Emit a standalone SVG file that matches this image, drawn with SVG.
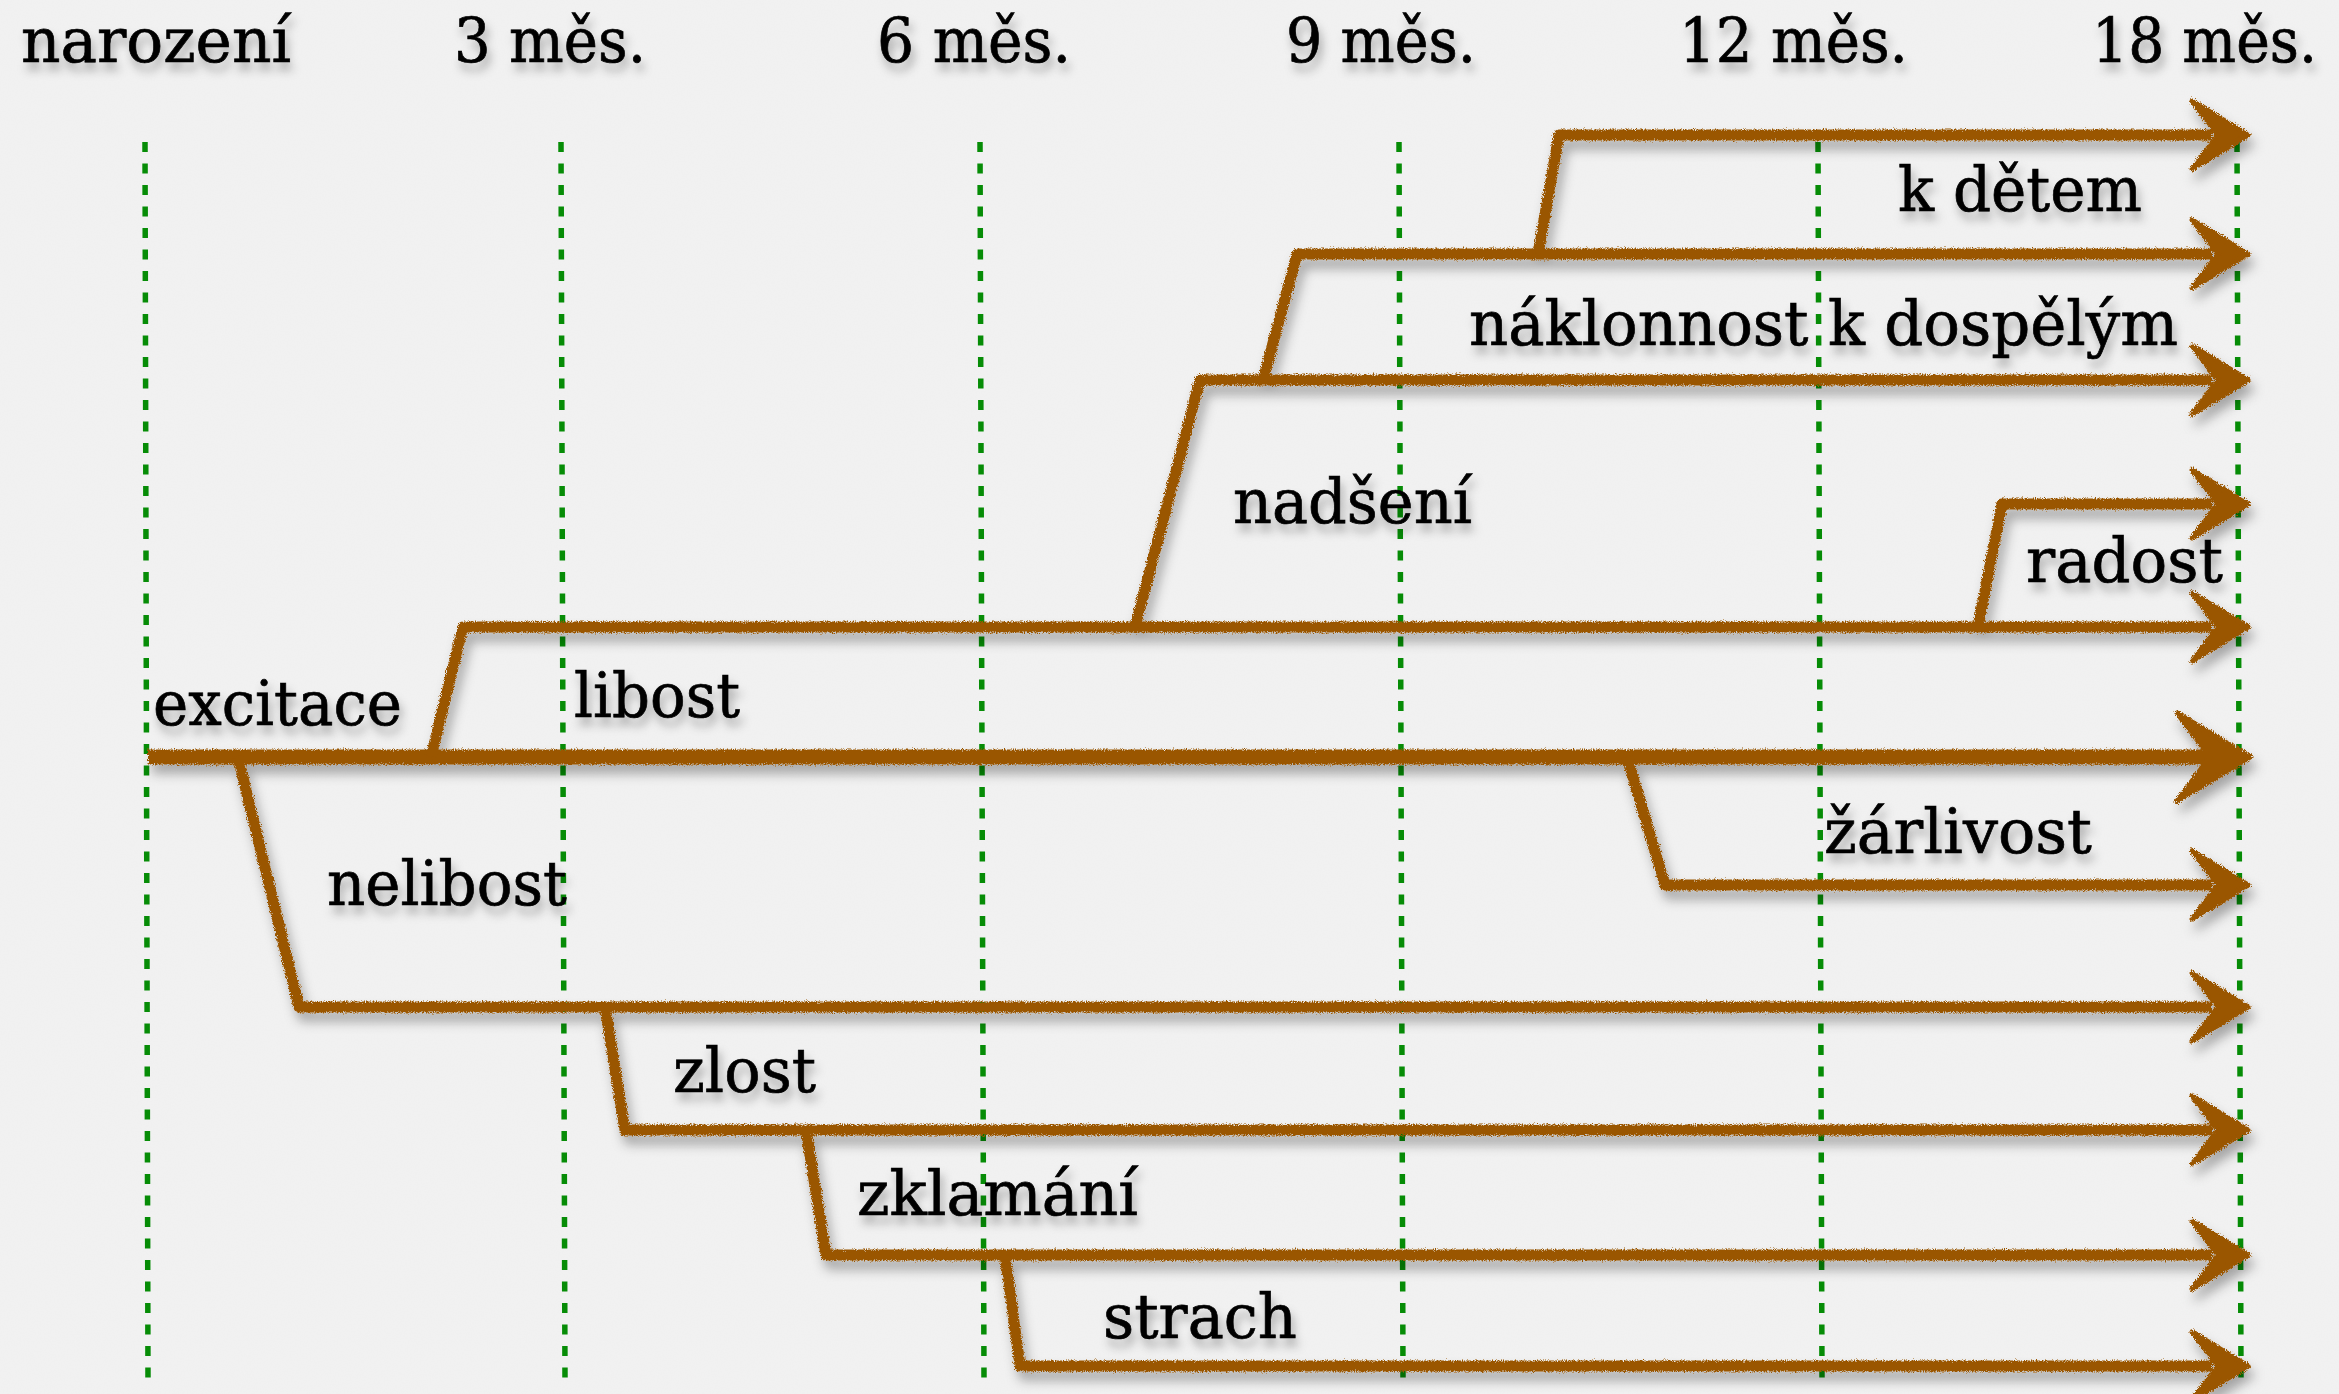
<svg xmlns="http://www.w3.org/2000/svg" width="2339" height="1394" viewBox="0 0 2339 1394">
  <defs>
    <style>
      .lbl { font-family: "DejaVu Serif", "Liberation Serif", serif; font-size: 61px; fill: #000000; stroke: #000000; stroke-width: 0.7; }
      .grid line { stroke: #068c06; stroke-width: 5.5; stroke-dasharray: 10 11.5; }
      .arr { fill: none; stroke: #9a5606; stroke-width: 11; stroke-linejoin: round; stroke-linecap: butt; }
      .arr.main { stroke-width: 15; }
      .head { fill: #9a5606; stroke: #9a5606; stroke-width: 5; stroke-linejoin: round; }
    </style>
    <filter id="paper" x="0" y="0" width="100%" height="100%">
      <feTurbulence type="fractalNoise" baseFrequency="0.7" numOctaves="2" seed="7" result="n"/>
      <feColorMatrix in="n" type="matrix" values="0 0 0 0 0.5  0 0 0 0 0.5  0 0 0 0 0.5  0 0 0 0.05 0"/>
    </filter>
    <filter id="crayon" x="-5%" y="-10%" width="110%" height="125%">
      <feTurbulence type="fractalNoise" baseFrequency="0.9" numOctaves="2" seed="3" result="noise"/>
      <feDisplacementMap in="SourceGraphic" in2="noise" scale="6" xChannelSelector="R" yChannelSelector="G" result="rough"/>
      <feGaussianBlur in="SourceAlpha" stdDeviation="6" result="blur"/>
      <feOffset in="blur" dx="4" dy="9" result="off"/>
      <feFlood flood-color="#000000" flood-opacity="0.32"/>
      <feComposite in2="off" operator="in" result="shadow"/>
      <feMerge>
        <feMergeNode in="shadow"/>
        <feMergeNode in="rough"/>
      </feMerge>
    </filter>
    <filter id="tshadow" x="-10%" y="-30%" width="125%" height="170%">
      <feGaussianBlur in="SourceAlpha" stdDeviation="5" result="blur"/>
      <feOffset in="blur" dx="3" dy="8" result="off"/>
      <feFlood flood-color="#000000" flood-opacity="0.3"/>
      <feComposite in2="off" operator="in" result="shadow"/>
      <feMerge>
        <feMergeNode in="shadow"/>
        <feMergeNode in="SourceGraphic"/>
      </feMerge>
    </filter>
  </defs>

  <rect x="0" y="0" width="2339" height="1394" fill="#f2f2f2"/>
  <rect x="0" y="0" width="2339" height="1394" filter="url(#paper)"/>

  <g id="timeline-grid" class="grid">
    <line x1="145" y1="142" x2="148" y2="1380"/>
    <line x1="561" y1="142" x2="565" y2="1380"/>
    <line x1="980" y1="142" x2="984" y2="1380"/>
    <line x1="1399" y1="142" x2="1403" y2="1380"/>
    <line x1="1818" y1="142" x2="1822" y2="1380"/>
    <line x1="2237" y1="142" x2="2241" y2="1380"/>
  </g>

  <g id="connectors" filter="url(#crayon)">
    <g id="arrow-excitace">
      <path class="arr main" d="M148,757 L2215,757"/>
      <path class="head" d="M2250,757 L2177,713 L2210,757 L2177,801 Z"/>
    </g>
    <g id="arrow-libost">
      <path class="arr" d="M431,757 L463,627 L2212,627"/>
      <path class="head" d="M2248,627 L2192,593 L2218,627 L2192,661 Z"/>
    </g>
    <g id="arrow-nadseni">
      <path class="arr" d="M1135,627 L1200,380 L2212,380"/>
      <path class="head" d="M2248,380 L2192,346 L2218,380 L2192,414 Z"/>
    </g>
    <g id="arrow-naklonnost">
      <path class="arr" d="M1263,380 L1297,254 L2212,254"/>
      <path class="head" d="M2248,254 L2192,220 L2218,254 L2192,288 Z"/>
    </g>
    <g id="arrow-k-detem">
      <path class="arr" d="M1538,254 L1559,135 L2212,135"/>
      <path class="head" d="M2248,135 L2192,101 L2218,135 L2192,169 Z"/>
    </g>
    <g id="arrow-radost">
      <path class="arr" d="M1978,627 L2002,504 L2212,504"/>
      <path class="head" d="M2248,504 L2192,470 L2218,504 L2192,538 Z"/>
    </g>
    <g id="arrow-zarlivost">
      <path class="arr" d="M1627,757 L1665,885 L2212,885"/>
      <path class="head" d="M2248,885 L2192,851 L2218,885 L2192,919 Z"/>
    </g>
    <g id="arrow-nelibost">
      <path class="arr" d="M238,757 L299,1007 L2212,1007"/>
      <path class="head" d="M2248,1007 L2192,973 L2218,1007 L2192,1041 Z"/>
    </g>
    <g id="arrow-zlost">
      <path class="arr" d="M605,1007 L625,1130 L2212,1130"/>
      <path class="head" d="M2248,1130 L2192,1096 L2218,1130 L2192,1164 Z"/>
    </g>
    <g id="arrow-zklamani">
      <path class="arr" d="M806,1130 L826,1255 L2212,1255"/>
      <path class="head" d="M2248,1255 L2192,1221 L2218,1255 L2192,1289 Z"/>
    </g>
    <g id="arrow-strach">
      <path class="arr" d="M1005,1255 L1020,1366 L2212,1366"/>
      <path class="head" d="M2248,1366 L2192,1332 L2218,1366 L2192,1400 Z"/>
    </g>
  </g>

  <g id="labels" filter="url(#tshadow)">
    <g id="t-narozeni"><text class="lbl" x="21" y="62" textLength="270" lengthAdjust="spacingAndGlyphs">narození</text></g>
    <g id="t-3mes"><text class="lbl" x="454" y="62" textLength="192" lengthAdjust="spacingAndGlyphs">3 měs.</text></g>
    <g id="t-6mes"><text class="lbl" x="877" y="62" textLength="194" lengthAdjust="spacingAndGlyphs">6 měs.</text></g>
    <g id="t-9mes"><text class="lbl" x="1286" y="62" textLength="190" lengthAdjust="spacingAndGlyphs">9 měs.</text></g>
    <g id="t-12mes"><text class="lbl" x="1679" y="62" textLength="229" lengthAdjust="spacingAndGlyphs">12 měs.</text></g>
    <g id="t-18mes"><text class="lbl" x="2092" y="62" textLength="225" lengthAdjust="spacingAndGlyphs">18 měs.</text></g>

    <g id="n-k-detem"><text class="lbl" x="1898" y="211" textLength="244" lengthAdjust="spacingAndGlyphs">k dětem</text></g>
    <g id="n-naklonnost"><text class="lbl" x="1469" y="345" textLength="709" lengthAdjust="spacingAndGlyphs">náklonnost k dospělým</text></g>
    <g id="n-nadseni"><text class="lbl" x="1233" y="523" textLength="239" lengthAdjust="spacingAndGlyphs">nadšení</text></g>
    <g id="n-radost"><text class="lbl" x="2026" y="582" textLength="197" lengthAdjust="spacingAndGlyphs">radost</text></g>
    <g id="n-excitace"><text class="lbl" x="153" y="725" textLength="249" lengthAdjust="spacingAndGlyphs">excitace</text></g>
    <g id="n-libost"><text class="lbl" x="574" y="717" textLength="166" lengthAdjust="spacingAndGlyphs">libost</text></g>
    <g id="n-zarlivost"><text class="lbl" x="1824" y="853" textLength="268" lengthAdjust="spacingAndGlyphs">žárlivost</text></g>
    <g id="n-nelibost"><text class="lbl" x="327" y="905" textLength="240" lengthAdjust="spacingAndGlyphs">nelibost</text></g>
    <g id="n-zlost"><text class="lbl" x="673" y="1092" textLength="143" lengthAdjust="spacingAndGlyphs">zlost</text></g>
    <g id="n-zklamani"><text class="lbl" x="857" y="1215" textLength="281" lengthAdjust="spacingAndGlyphs">zklamání</text></g>
    <g id="n-strach"><text class="lbl" x="1103" y="1338" textLength="194" lengthAdjust="spacingAndGlyphs">strach</text></g>
  </g>
</svg>
